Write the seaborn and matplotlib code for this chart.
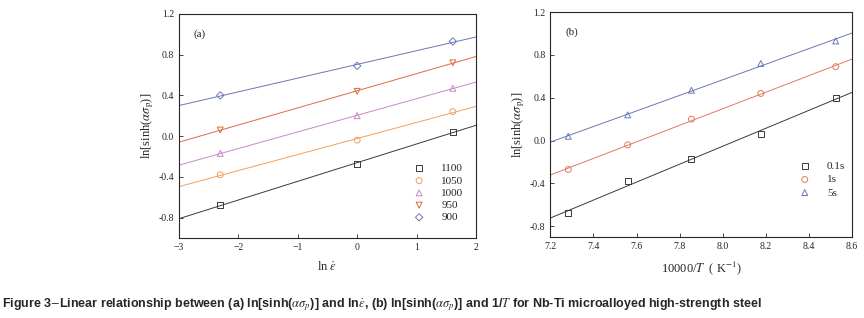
import numpy as np
import pandas as pd
import matplotlib
matplotlib.use("Agg")
import matplotlib.pyplot as plt
import seaborn as sns

# ---- data ----
ln_rate = [-2.303, 0.0, 1.609]
temps_a = ["1100", "1050", "1000", "950", "900"]
a_1100 = [-0.68, -0.27, 0.04]
a_1050 = [-0.38, -0.04, 0.24]
a_1000 = [-0.17, 0.20, 0.47]
a_950 = [0.06, 0.44, 0.72]
a_900 = [0.40, 0.69, 0.93]

inv_T = [7.283, 7.559, 7.855, 8.177, 8.525]
rates_b = ["0.1s", "1s", "5s"]
b_01 = [-0.68, -0.38, -0.17, 0.06, 0.40]
b_1 = [-0.27, -0.04, 0.20, 0.44, 0.69]
b_5 = [0.04, 0.24, 0.47, 0.72, 0.93]

sns.set_theme(style="ticks")
plt.rcParams['font.family'] = ['Liberation Serif', 'DejaVu Serif']
plt.rcParams['mathtext.fontset'] = 'stix'
plt.rcParams['xtick.direction'] = 'in'
plt.rcParams['ytick.direction'] = 'in'

fig = plt.figure(figsize=(8.64, 3.18), dpi=100)
axa = fig.add_axes([0.207, 0.252, 0.344, 0.704])
axb = fig.add_axes([0.637, 0.255, 0.349, 0.707])

cols_a = ["#3a3a3a", "#f0a060", "#c888c8", "#e06a40", "#6a78b8"]
marks_a = ["s", "o", "^", "v", "D"]
ys_a = [a_1100, a_1050, a_1000, a_950, a_900]

axa.set_xlim(-3, 2)
axa.set_ylim(-1.0, 1.2)
for lab, y, c, m in zip(temps_a, ys_a, cols_a, marks_a):
    df = pd.DataFrame({"x": ln_rate, "y": y})
    sns.regplot(data=df, x="x", y="y", ax=axa, scatter=False, truncate=False,
                ci=None, line_kws=dict(color=c, lw=0.7))
    sns.scatterplot(data=df, x="x", y="y", ax=axa, marker=m, s=18 if m != "D" else 14,
                    facecolors="none", edgecolor=c, linewidth=0.7, label=lab)
axa.set_xlim(-3, 2)
axa.set_ylim(-1.0, 1.2)
axa.set_xticks([-3, -2, -1, 0, 1, 2])
axa.set_yticks([-0.8, -0.4, 0.0, 0.4, 0.8, 1.2])
axa.set_yticklabels(["-0.8", "-0.4", "0.0", "0.4", "0.8", "1.2"])
axa.set_xlabel(r"ln $\dot{\varepsilon}$", fontsize=9, labelpad=6)
axa.set_ylabel(r"ln[sinh($\alpha\sigma_{\rm p}$)]", fontsize=9, labelpad=2)
axa.text(0.05, 0.9, "(a)", transform=axa.transAxes, fontsize=8)
axa.legend(loc="lower right", bbox_to_anchor=(0.98, 0.04), frameon=False, fontsize=8,
           handletextpad=1.0, labelspacing=0.22, borderaxespad=0.2)

cols_b = ["#3a3a3a", "#e07a60", "#6a78b8"]
marks_b = ["s", "o", "^"]
ys_b = [b_01, b_1, b_5]
axb.set_xlim(7.2, 8.6)
axb.set_ylim(-0.9, 1.2)
for lab, y, c, m in zip(rates_b, ys_b, cols_b, marks_b):
    df = pd.DataFrame({"x": inv_T, "y": y})
    sns.regplot(data=df, x="x", y="y", ax=axb, scatter=False, truncate=False,
                ci=None, line_kws=dict(color=c, lw=0.7))
    sns.scatterplot(data=df, x="x", y="y", ax=axb, marker=m, s=18,
                    facecolors="none", edgecolor=c, linewidth=0.7, label=lab)
axb.set_xlim(7.2, 8.6)
axb.set_ylim(-0.9, 1.2)
axb.set_xticks([7.2, 7.4, 7.6, 7.8, 8.0, 8.2, 8.4, 8.6])
axb.set_yticks([-0.8, -0.4, 0.0, 0.4, 0.8, 1.2])
axb.set_yticklabels(["-0.8", "-0.4", "0.0", "0.4", "0.8", "1.2"])
axb.set_xlabel(r"10000/$T$  ( K$^{-1}$)", fontsize=9, labelpad=6)
axb.set_ylabel(r"ln[sinh($\alpha\sigma_{\rm p}$)]", fontsize=9, labelpad=2)
axb.text(0.05, 0.9, "(b)", transform=axb.transAxes, fontsize=8)
axb.legend(loc="upper right", bbox_to_anchor=(1.0, 0.365), frameon=False, fontsize=8,
           handletextpad=1.0, labelspacing=0.3, borderaxespad=0.2)

for ax in (axa, axb):
    ax.tick_params(labelsize=7, length=3, width=0.6, direction="in")
    for sp in ax.spines.values():
        sp.set_linewidth(0.8)
        sp.set_visible(True)

fig.text(0.002, 0.035,
         r"Figure 3$-$Linear relationship between (a) ln[sinh($\alpha\sigma_p$)] and ln$\dot{\varepsilon}$, "
         r"(b) ln[sinh($\alpha\sigma_p$)] and 1/$T$ for Nb-Ti microalloyed high-strength steel",
         fontsize=9, fontweight="bold",
         family=['Liberation Sans Narrow', 'Liberation Sans', 'DejaVu Sans'])

fig.savefig("out.png", dpi=100)
